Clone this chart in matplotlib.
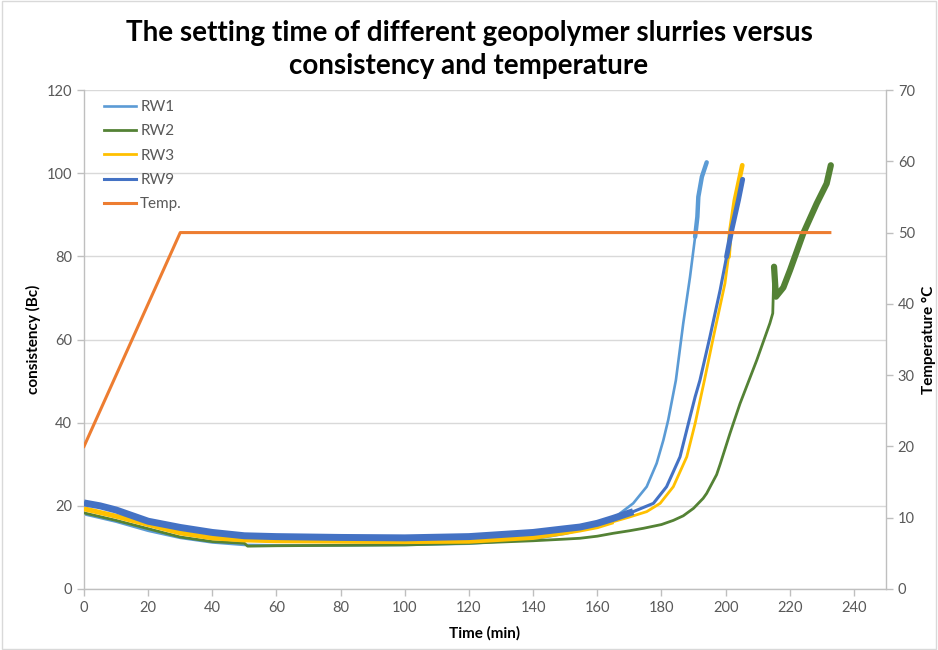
import matplotlib
matplotlib.use("Agg")
import matplotlib.pyplot as plt
import numpy as np
from matplotlib.patches import Rectangle

plt.rcParams['font.family'] = ['Lato', 'DejaVu Sans']

# Consistency readings (Bc) against time (min)
t_rw1 = [0, 10, 20, 30, 40, 50, 60, 80, 100, 120, 140, 150, 160, 165, 167.1, 171.2, 175.4,
         178.5, 180.6, 182.1, 183.7, 184.5, 186.8, 188.9, 190.5, 191.2, 191.5, 192.6, 194.1]
rw1 = [18.0, 16.2, 14.0, 12.3, 11.2, 10.6, 10.5, 10.5, 10.6, 10.9, 12.0, 13.3, 15.2, 16.8,
       18.2, 20.6, 24.6, 30.2, 35.8, 40.6, 47.0, 50.2, 63.9, 75.0, 84.7, 89.5, 94.3, 99.1, 102.6]

t_rw2 = [0, 10, 20, 30, 40, 50, 51, 60, 80, 100, 120, 140, 150, 154.6, 160, 165, 170,
         174.4, 180, 183.7, 186.8, 190, 193, 194.1, 197.2, 198.3, 201.4, 202.4, 204.5, 209.7,
         213.8, 214.7, 215.1, 215.7, 218, 220.1, 224.2, 228.4, 231.5, 232.8]
rw2 = [18.3, 16.5, 14.5, 12.5, 11.4, 11.0, 10.3, 10.4, 10.5, 10.6, 11.0, 11.6, 12.0, 12.2,
       12.7, 13.4, 14.0, 14.6, 15.5, 16.5, 17.6, 19.4, 21.8, 23.0, 27.5, 30.0, 37.5, 39.8,
       44.6, 55.0, 63.9, 66.3, 77.5, 70.3, 72.5, 76.7, 85.5, 92.7, 97.5, 101.9]

t_rw3 = [0, 10, 20, 30, 40, 50, 60, 80, 100, 120, 140, 150, 154.6, 160, 165, 170, 175.4,
         179.6, 183.7, 187.9, 190.5, 192.5, 193.4, 196.2, 199.8, 200.9, 201.4, 202.9, 204.0,
         205.2]
rw3 = [19.3, 17.5, 15.5, 13.5, 12.3, 11.8, 11.6, 11.5, 11.4, 11.5, 12.4, 13.6, 14.2, 15.0,
       16.2, 17.3, 18.6, 20.6, 24.6, 31.8, 39.8, 47.0, 50.2, 60.6, 73.5, 79.9, 85.5, 93.5,
       97.5, 101.9]

t_rw9 = [0, 5, 10, 20, 30, 40, 50, 60, 80, 100, 120, 140, 150, 154.6, 160, 165, 171.2,
         177.5, 181.6, 185.8, 188.4, 190.5, 192.0, 195.1, 198.3, 200.3, 201.9, 204.0, 205.3]
rw9 = [20.7, 20.0, 19.0, 16.3, 14.8, 13.6, 12.8, 12.6, 12.4, 12.3, 12.6, 13.6, 14.5, 14.9,
       15.8, 17.0, 18.6, 20.6, 24.6, 31.8, 39.8, 46.2, 50.2, 60.6, 71.9, 79.9, 86.3, 93.5, 98.5]

# Temperature program (°C)
t_temp = [0, 30, 232.5]
temp = [20, 50, 50]

C_RW1 = '#5B9BD5'
C_RW2 = '#548235'
C_RW3 = '#FFC000'
C_RW9 = '#4472C4'
C_TEMP = '#ED7D31'
C_AXIS = '#BFBFBF'
C_TXT = '#595959'

fig = plt.figure(figsize=(9.38, 6.5), dpi=100)
ax = fig.add_axes([84 / 938, 1 - 589 / 650, (886 - 84) / 938, (589 - 90) / 650])
ax2 = ax.twinx()


def seg(t, v, lo, hi):
    t = np.asarray(t, float)
    v = np.asarray(v, float)
    m = (t >= lo) & (t <= hi)
    return t[m], v[m]


# RW1
ax.plot(t_rw1, rw1, color=C_RW1, lw=1.9, label='RW1', zorder=2)
ax.plot(*seg(t_rw1, rw1, 190.5, 200), color=C_RW1, lw=3.2, zorder=2, solid_capstyle='round')
# RW2 (noisier towards the end)
ax.plot(t_rw2, rw2, color=C_RW2, lw=2.0, label='RW2', zorder=3)
ax.plot(*seg(t_rw2, rw2, 215.1, 240), color=C_RW2, lw=4.5, zorder=3, solid_capstyle='round')
# RW3
ax.plot(t_rw3, rw3, color=C_RW3, lw=2.0, label='RW3', zorder=4)
ax.plot(*seg(t_rw3, rw3, 0, 165), color=C_RW3, lw=3.6, zorder=4, solid_capstyle='butt')
ax.plot(*seg(t_rw3, rw3, 200.9, 210), color=C_RW3, lw=3.4, zorder=4, solid_capstyle='round')
# RW9
ax.plot(t_rw9, rw9, color=C_RW9, lw=2.2, label='RW9', zorder=5)
ax.plot(*seg(t_rw9, rw9, 0, 171.2), color=C_RW9, lw=5.0, zorder=5, solid_capstyle='butt')
ax.plot(*seg(t_rw9, rw9, 200.3, 210), color=C_RW9, lw=3.6, zorder=5, solid_capstyle='round')

# Temperature on the secondary axis
ax2.plot(t_temp, temp, color=C_TEMP, lw=2.2, zorder=6)
ax.plot([], [], color=C_TEMP, lw=2.2, label='Temp.')

ax.set_xlim(0, 250)
ax.set_ylim(0, 120)
ax2.set_ylim(0, 70)
ax.set_xticks(np.arange(0, 241, 20))
ax.set_yticks(np.arange(0, 121, 20))
ax2.set_yticks(np.arange(0, 71, 10))

ax.grid(axis='y', color='#D9D9D9', lw=1.0)
ax.set_axisbelow(True)

for a in (ax, ax2):
    a.spines['top'].set_visible(False)
    for s in ('left', 'bottom', 'right'):
        a.spines[s].set_color(C_AXIS)
        a.spines[s].set_linewidth(1.0)
    a.tick_params(colors=C_AXIS, labelcolor=C_TXT, labelsize=10.5, length=5, width=1.0)
ax.spines['right'].set_visible(False)
ax2.spines['left'].set_visible(False)
ax2.spines['bottom'].set_visible(False)

ax.set_xlabel('Time (min)', fontsize=11, fontweight='bold', labelpad=8)
ax.set_ylabel('consistency (Bc)', fontsize=11, fontweight='bold', labelpad=4)
ax2.set_ylabel('Temperature °C', fontsize=11, fontweight='bold', labelpad=5)

fig.suptitle('The setting time of different geopolymer slurries versus\nconsistency and temperature',
             fontsize=20, fontweight='bold', y=0.97, linespacing=1.35)

leg = ax.legend(loc='upper left', frameon=False, fontsize=11, handlelength=2.15,
                handletextpad=0.25, labelspacing=0.68, bbox_to_anchor=(0.012, 1.0),
                borderaxespad=0.35, borderpad=0.3)
for txt in leg.get_texts():
    txt.set_color(C_TXT)

fig.patches.append(Rectangle((0.002, 0.002), 0.996, 0.996, transform=fig.transFigure,
                             fill=False, edgecolor='#D9D9D9', lw=1.0))

fig.savefig('out.png', dpi=100)
